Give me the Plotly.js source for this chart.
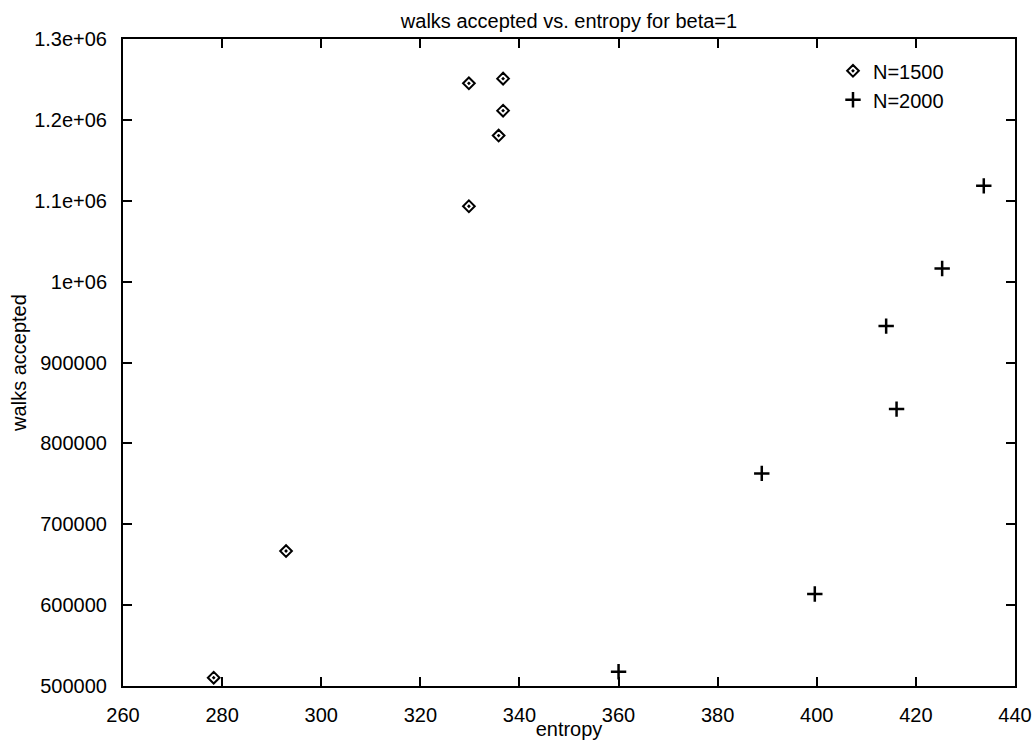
<!DOCTYPE html>
<html>
<head>
<meta charset="utf-8">
<script src="https://cdn.plot.ly/plotly-3.0.1.min.js"></script>
<style>html,body{margin:0;padding:0;background:#fff;}#chart{width:1033px;height:740px;}</style>
</head>
<body>
<div id="chart"></div>
<script>
// data
const n1500Entropy = [278.3, 292.9, 329.8, 329.8, 335.8, 336.7, 336.7];
const n1500Walks   = [510250, 666900, 1093200, 1245200, 1180600, 1211400, 1251000];
const n2000Entropy = [360.0, 388.9, 399.6, 414.0, 416.1, 425.3, 433.7];
const n2000Walks   = [517700, 762900, 613700, 945000, 842400, 1016300, 1118400];

const xTickVals = [260, 280, 300, 320, 340, 360, 380, 400, 420, 440];
const yTickVals = [500000, 600000, 700000, 800000, 900000, 1000000, 1100000, 1200000, 1300000];
const yTickText = ['500000', '600000', '700000', '800000', '900000', '1e+06', '1.1e+06', '1.2e+06', '1.3e+06'];

const FONT = 'Liberation Sans, Arial, Helvetica, sans-serif';

const traces = [
  {
    x: n1500Entropy, y: n1500Walks, name: 'N=1500', type: 'scatter', mode: 'markers',
    marker: {symbol: 'diamond-open-dot', size: 9, color: '#000', line: {color: '#000', width: 2}}
  },
  {
    x: n2000Entropy, y: n2000Walks, name: 'N=2000', type: 'scatter', mode: 'markers',
    marker: {symbol: 'cross-thin', size: 11, color: '#000', line: {color: '#000', width: 2.5}}
  }
];

const axisCommon = {
  showgrid: false, zeroline: false, showline: true, linecolor: '#000', linewidth: 2,
  mirror: 'ticks', ticks: 'inside', ticklen: 9, tickwidth: 2, tickcolor: '#000',
  tickfont: {family: FONT, size: 20, color: '#000'}
};

const layout = {
  width: 1033, height: 740,
  paper_bgcolor: '#fff', plot_bgcolor: '#fff',
  margin: {l: 123, r: 18, t: 39, b: 54, pad: 0},
  font: {family: FONT, size: 20, color: '#000'},
  title: {text: 'walks accepted vs. entropy for beta=1', font: {family: FONT, size: 20, color: '#000'},
          x: 0.5, xref: 'paper', y: 1 - 21/740, yref: 'container', yanchor: 'middle'},
  xaxis: Object.assign({}, axisCommon, {
    range: [260, 440], tickvals: xTickVals, ticklabelstandoff: 10,
    title: {text: 'entropy', font: {family: FONT, size: 20, color: '#000'}, standoff: 0}
  }),
  yaxis: Object.assign({}, axisCommon, {
    range: [500000, 1300000], tickvals: yTickVals, ticktext: yTickText, ticklabelstandoff: 10,
    title: {text: 'walks accepted', font: {family: FONT, size: 20, color: '#000'}, standoff: 2}
  }),
  showlegend: true,
  legend: {x: 0.926, xanchor: 'right', y: 0.981, yanchor: 'top', bgcolor: 'rgba(0,0,0,0)',
           font: {family: FONT, size: 20, color: '#000'}, tracegroupgap: 0, itemwidth: 30}
};

Plotly.newPlot('chart', traces, layout, {displayModeBar: false, staticPlot: true});
</script>
</body>
</html>
